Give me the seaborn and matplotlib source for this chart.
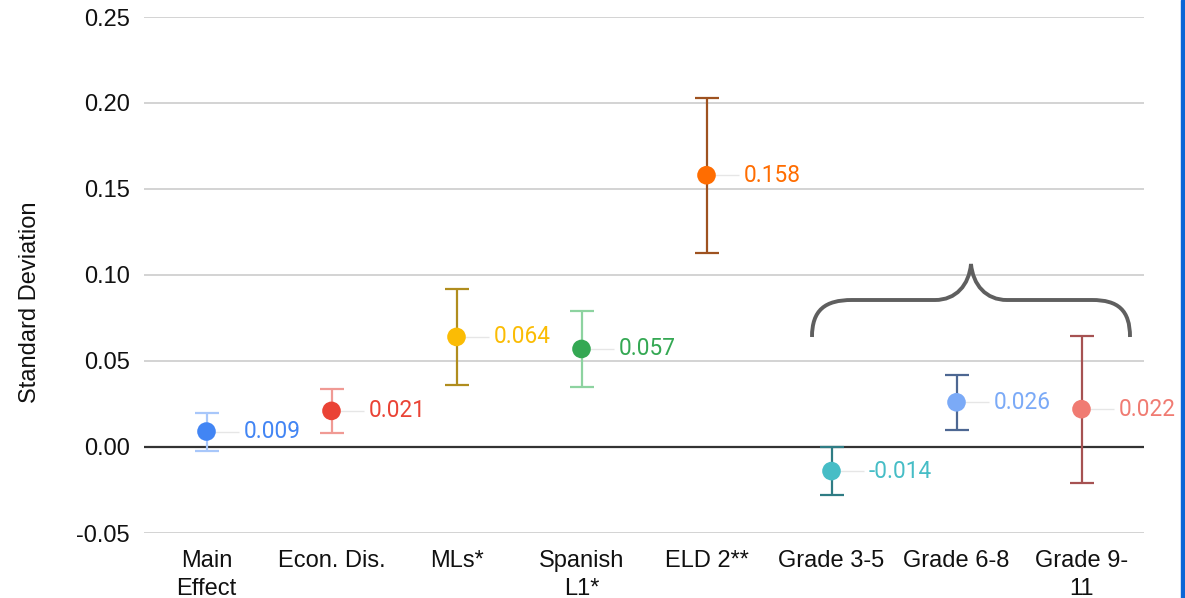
import numpy as np
import pandas as pd
import matplotlib
matplotlib.use("Agg")
import matplotlib.pyplot as plt
from matplotlib.path import Path
from matplotlib.patches import PathPatch, Rectangle
import seaborn as sns

# ---- data ----
categories = ["Main\nEffect", "Econ. Dis.", "MLs*", "Spanish\nL1*", "ELD 2**",
              "Grade 3-5", "Grade 6-8", "Grade 9-\n11"]
estimates = [0.009, 0.021, 0.064, 0.057, 0.158, -0.014, 0.026, 0.022]
ci_upper = [0.0198, 0.0337, 0.0919, 0.079, 0.203, 0.0, 0.042, 0.0645]
ci_lower = [-0.0023, 0.0081, 0.036, 0.035, 0.1128, -0.028, 0.0099, -0.021]
point_colors = ["#4285F4", "#EA4335", "#FBBC04", "#34A853", "#FF6D01",
                "#46BDC6", "#7BAAF7", "#F07B72"]
bar_colors = ["#A8C7FA", "#F09A94", "#B08D1E", "#8DD3A0", "#9E5220",
              "#2F7C84", "#4D6792", "#A65252"]
y_ticks = [-0.05, 0.00, 0.05, 0.10, 0.15, 0.20, 0.25]

df = pd.DataFrame({"category": categories, "estimate": estimates,
                   "lower": ci_lower, "upper": ci_upper})

sns.set_theme(style="white")
plt.rcParams['font.family'] = ['Liberation Sans', 'DejaVu Sans']

W, H = 1185, 598
fig = plt.figure(figsize=(W / 100, H / 100), dpi=100)
L, R, T, B = 144, 1144, 17, 533
ax = fig.add_axes([L / W, 1 - B / H, (R - L) / W, (B - T) / H])

xpos = np.arange(len(categories))

# gridlines
for yt in y_ticks:
    if yt == 0:
        ax.axhline(yt, color="#333333", lw=1.6, zorder=1)
    else:
        ax.axhline(yt, color="#cccccc", lw=1.2, zorder=0)

# error bars
for i, row in df.iterrows():
    ax.errorbar(xpos[i], row["estimate"],
                yerr=[[row["estimate"] - row["lower"]], [row["upper"] - row["estimate"]]],
                fmt="none", ecolor=bar_colors[i], elinewidth=1.6, capsize=8.6,
                capthick=1.6, zorder=2)

# leader lines + labels
for i, row in df.iterrows():
    ax.plot([xpos[i], xpos[i] + 0.26], [row["estimate"]] * 2,
            color="#e6e6e6", lw=1.0, zorder=1.5, solid_capstyle="butt")
    ax.text(xpos[i] + 0.295, row["estimate"], f"{row['estimate']:.3f}",
            color=point_colors[i], fontsize=16.3, family=["Roboto", "DejaVu Sans"],
            va="center", ha="left", clip_on=False, zorder=4)

# points
sns.scatterplot(data=df, x=xpos, y="estimate", hue="category",
                palette=point_colors, s=13.4 ** 2, linewidth=0, legend=False,
                ax=ax, zorder=3)

# brace annotation (drawn in pixel space converted to data)
def px2data(px, py):
    return ((px - L) / 125.0 - 0.5, (447 - py) / 86.0 * 0.05)

brace_px = [(812, 337),
            (812, 310), (825, 300), (852, 300),
            (935, 300),
            (956, 300), (969, 285), (971, 264),
            (973, 285), (986, 300), (1007, 300),
            (1092, 300),
            (1118, 300), (1130, 310), (1130, 337)]
codes = [Path.MOVETO,
         Path.CURVE4, Path.CURVE4, Path.CURVE4,
         Path.LINETO,
         Path.CURVE4, Path.CURVE4, Path.CURVE4,
         Path.CURVE4, Path.CURVE4, Path.CURVE4,
         Path.LINETO,
         Path.CURVE4, Path.CURVE4, Path.CURVE4]
verts = [px2data(*p) for p in brace_px]
ax.add_patch(PathPatch(Path(verts, codes), fill=False, edgecolor="#5f5f5f",
                       lw=2.8, capstyle="butt", zorder=2, clip_on=False))

ax.set_xlim(-0.5, len(categories) - 0.5)
ax.set_ylim(-0.05, 0.25)
ax.set_xticks(xpos)
ax.set_xticklabels(categories, fontsize=17, color="#111111", linespacing=1.35)
ax.set_yticks(y_ticks)
ax.set_yticklabels([f"{v:.2f}" for v in y_ticks], fontsize=17, color="#111111")
ax.tick_params(axis="x", length=0, pad=12)
ax.tick_params(axis="y", length=0, pad=10)
ax.set_xlabel("")
ax.set_ylabel("Standard Deviation", fontsize=17, color="#111111")
ax.yaxis.set_label_coords(-103 / (R - L), 1 - (302 - T) / (B - T))
for s in ax.spines.values():
    s.set_visible(False)

# right-edge blue border from the screenshot
fig.patches.append(Rectangle((1181 / W, 0), 4 / W, 1, transform=fig.transFigure,
                             color="#0b66d6", zorder=10))

fig.savefig("out.png", dpi=100)
